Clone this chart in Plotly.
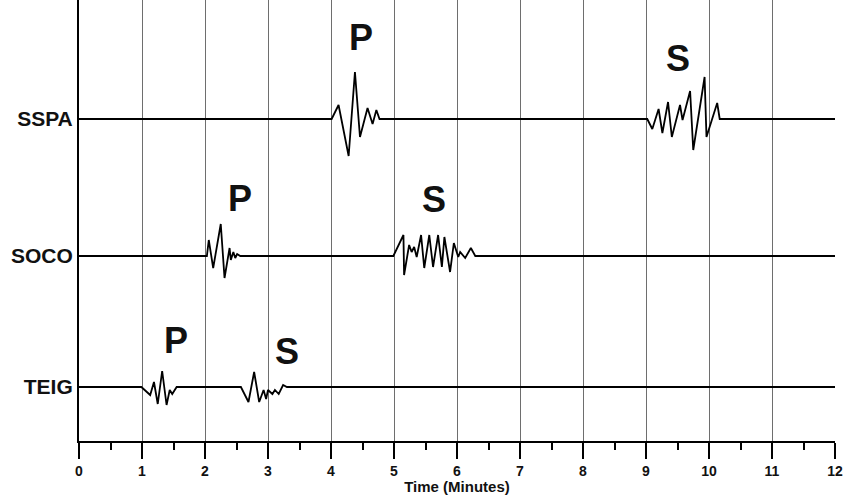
import plotly.graph_objects as go

# Stations and baseline offsets (vertical units on a 0-441 scale)
stations = ["SSPA", "SOCO", "TEIG"]
baselines = [322, 185, 54]

# Seismogram samples: time (minutes) and amplitude
sspa_t = [0, 4.01, 4.12, 4.28, 4.38, 4.46, 4.58, 4.66, 4.72, 4.77,
          9.02, 9.10, 9.20, 9.26, 9.35, 9.41, 9.54, 9.58, 9.70, 9.75, 9.93, 9.96, 10.13, 10.17, 12]
sspa_a = [0, 0, 14, -37, 47, -18, 11, -5, 9, 0,
          0, -10, 10, -14, 17, -18, 14, -1, 28, -31, 42, -18, 16, 0, 0]

soco_t = [0, 2.03, 2.06, 2.13, 2.25, 2.31, 2.39, 2.41, 2.45, 2.48, 2.51, 2.56,
          4.99, 5.15, 5.16, 5.24, 5.28, 5.32, 5.36, 5.43, 5.48, 5.56, 5.62, 5.70, 5.76, 5.80,
          5.89, 5.95, 6.02, 6.05, 6.13, 6.22, 6.29, 12]
soco_a = [0, 0, 16, -12, 32, -22, 8, -4, 4, -2, 2, 0,
          0, 21, -19, 11, 4, 9, -1, 21, -12, 21, -11, 21, -11, 19,
          -16, 13, -1, 4, -2, 8, 0, 0]

teig_t = [0, 0.99, 1.13, 1.19, 1.25, 1.32, 1.39, 1.44, 1.48, 1.55,
          2.57, 2.69, 2.78, 2.86, 2.93, 2.97, 3.00, 3.07, 3.11, 3.17, 3.24, 3.30, 12]
teig_a = [0, 0, -8, 5, -17, 16, -18, -3, -7, 0,
          0, -15, 15, -15, -3, -12, -3, -7, -3, -7, 2, 0, 0]

# Phase labels: phase, time, height
phase_text = ["P", "S", "P", "S", "P", "S"]
phase_x = [4.48, 9.51, 2.55, 5.63, 1.54, 3.30]
phase_y = [403.5, 383, 242.5, 242, 101, 89.5]

x_ticks = list(range(0, 13))

series = [(sspa_t, sspa_a), (soco_t, soco_a), (teig_t, teig_a)]

font = "Liberation Sans, Arial"

fig = go.Figure()
for name, base, (t, a) in zip(stations, baselines, series):
    fig.add_trace(go.Scatter(
        x=t, y=[base + v for v in a], mode="lines", name=name,
        line=dict(color="black", width=1.8), showlegend=False, hoverinfo="skip"))

for txt, px, py in zip(phase_text, phase_x, phase_y):
    fig.add_annotation(x=px, y=py, text=f"<b>{txt}</b>", showarrow=False,
                       font=dict(family=font, size=36, color="#111"),
                       xanchor="center", yanchor="middle")

fig.update_layout(
    width=844, height=495,
    margin=dict(l=79, r=9, t=0, b=54),
    paper_bgcolor="white", plot_bgcolor="white",
    font=dict(family=font, color="#111"),
    xaxis=dict(
        range=[0, 12], tickvals=x_ticks, ticktext=[f"<b>{v}</b>" for v in x_ticks],
        showgrid=True, gridcolor="#6e6e6e", gridwidth=1,
        showline=True, linecolor="black", linewidth=2,
        ticks="outside", ticklen=16, tickwidth=2, tickcolor="black",
        tickfont=dict(size=14, family=font, color="#111"),
        minor=dict(dtick=0.5, tick0=0, ticks="outside", ticklen=7, tickwidth=2,
                   tickcolor="black", showgrid=False),
        zeroline=False,
        title=dict(text="<b>Time (Minutes)</b>", font=dict(size=15, family=font, color="#111"),
                   standoff=2),
    ),
    yaxis=dict(
        range=[0, 441], tickvals=baselines, ticktext=[f"<b>{s}</b>" for s in stations],
        showgrid=False, zeroline=False,
        showline=True, linecolor="black", linewidth=2,
        ticks="", tickfont=dict(size=21, family=font, color="#111"),
    ),
)

fig.write_html("out.html")
